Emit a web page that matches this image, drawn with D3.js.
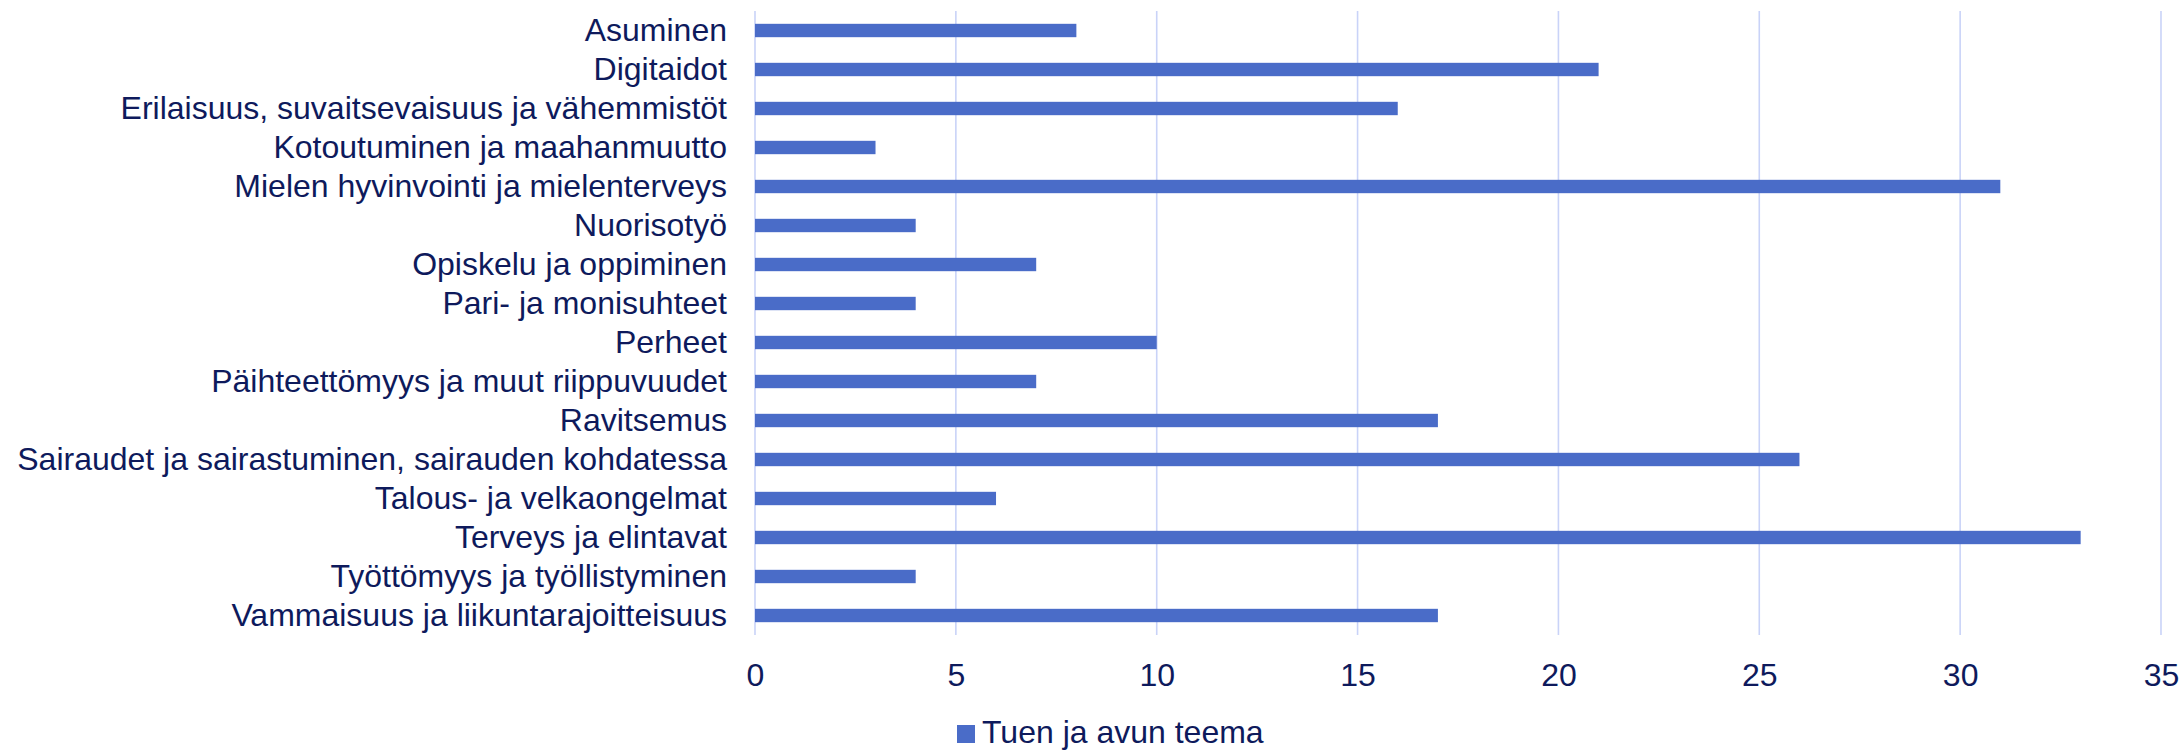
<!DOCTYPE html>
<html>
<head>
<meta charset="utf-8">
<script src="https://cdn.jsdelivr.net/npm/d3@7"></script>
<style>
  html, body { margin: 0; padding: 0; background: #ffffff; }
  svg { display: block; }
  text { font-family: "Liberation Sans", Arial, sans-serif; }
</style>
</head>
<body>
<svg id="chart" width="2183" height="750"></svg>
<script>
const categories = [
  "Asuminen",
  "Digitaidot",
  "Erilaisuus, suvaitsevaisuus ja vähemmistöt",
  "Kotoutuminen ja maahanmuutto",
  "Mielen hyvinvointi ja mielenterveys",
  "Nuorisotyö",
  "Opiskelu ja oppiminen",
  "Pari- ja monisuhteet",
  "Perheet",
  "Päihteettömyys ja muut riippuvuudet",
  "Ravitsemus",
  "Sairaudet ja sairastuminen, sairauden kohdatessa",
  "Talous- ja velkaongelmat",
  "Terveys ja elintavat",
  "Työttömyys ja työllistyminen",
  "Vammaisuus ja liikuntarajoitteisuus"
];
const values = [8, 21, 16, 3, 31, 4, 7, 4, 10, 7, 17, 26, 6, 33, 4, 17];
const xTicks = [0, 5, 10, 15, 20, 25, 30, 35];
const seriesName = "Tuen ja avun teema";

(function () {
  const barColor = "#4a6cc8";
  const gridColor = "#c9d3f8";
  const textColor = "#0e1a5c";
  const fontSize = 32;

  const svg = d3.select("#chart");
  const pLeft = 755, pRight = 2161, pTop = 11, pBottom = 635;

  const x = d3.scaleLinear().domain([0, 35]).range([pLeft, pRight]);
  const y = d3.scaleBand().domain(categories).range([pTop, pBottom])
    .paddingInner(0.657).paddingOuter(0.3285);

  // gridlines
  svg.append("g").selectAll("line").data(xTicks).join("line")
    .attr("x1", d => x(d)).attr("x2", d => x(d))
    .attr("y1", pTop).attr("y2", pBottom)
    .attr("stroke", gridColor).attr("stroke-width", 1.6);

  // x-axis labels
  const xAxis = d3.axisBottom(x).tickValues(xTicks).tickSize(0).tickPadding(0);
  const gx = svg.append("g").attr("transform", `translate(0,${pBottom})`).call(xAxis);
  gx.select(".domain").remove();
  gx.selectAll("text")
    .attr("y", 50.5).attr("dy", 0)
    .style("font-size", fontSize + "px")
    .style("font-family", '"Liberation Sans", Arial, sans-serif')
    .attr("fill", textColor);

  // bars
  svg.append("g").selectAll("rect").data(categories).join("rect")
    .attr("x", x(0))
    .attr("y", d => y(d))
    .attr("width", (d, i) => x(values[i]) - x(0))
    .attr("height", y.bandwidth())
    .attr("fill", barColor);

  // y-axis labels
  const yAxis = d3.axisLeft(y).tickSize(0).tickPadding(28);
  const gy = svg.append("g").attr("transform", `translate(${pLeft},0)`).call(yAxis);
  gy.select(".domain").remove();
  gy.selectAll("text")
    .style("font-size", fontSize + "px")
    .style("font-family", '"Liberation Sans", Arial, sans-serif')
    .attr("fill", textColor);

  // legend
  const lg = svg.append("g");
  lg.append("rect").attr("x", 957).attr("y", 725).attr("width", 18).attr("height", 18)
    .attr("fill", barColor);
  lg.append("text").attr("x", 982).attr("y", 743)
    .style("font-size", fontSize + "px")
    .attr("fill", textColor)
    .text(seriesName);
})();
</script>
</body>
</html>
